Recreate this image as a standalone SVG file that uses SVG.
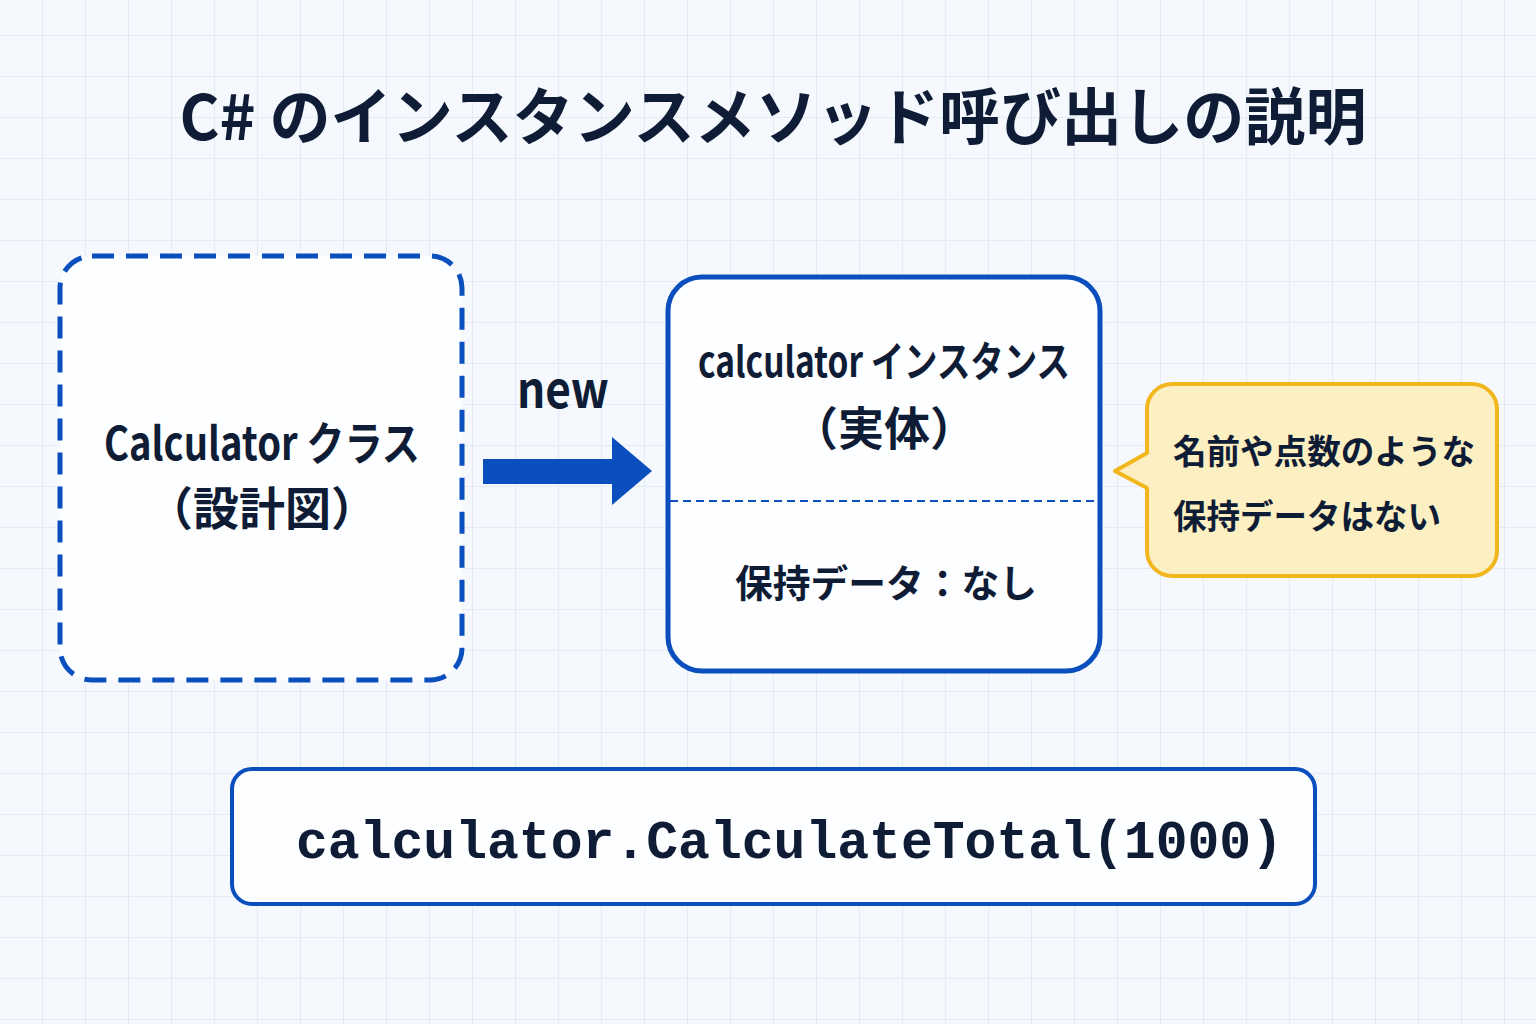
<svg xmlns="http://www.w3.org/2000/svg" width="1536" height="1024" viewBox="0 0 1536 1024">
<defs>
<pattern id="grid" x="42" y="35" width="43" height="41" patternUnits="userSpaceOnUse">
<path d="M0 0 H43 M0 0 V41" fill="none" stroke="#dbe7f5" stroke-width="1.5"/>
</pattern>
<style>
.t{font-family:"Noto Sans CJK JP","Noto Sans",sans-serif;fill:#0f1c36;font-weight:700}
.title{font-size:62px}
.mono{font-family:"Liberation Mono","DejaVu Sans Mono",monospace;font-weight:700;fill:#0f1c36}
.blue{stroke:#0b4fbe;fill:#fdfeff}
</style>
</defs>
<rect width="1536" height="1024" fill="#f5f8fd"/>
<rect width="1536" height="1024" fill="url(#grid)"/>
<g id="title">
<text class="t title" x="773" y="140" text-anchor="middle" textLength="1187" lengthAdjust="spacingAndGlyphs">C# のインスタンスメソッド呼び出しの説明</text>
</g>
<g id="class-node">
<rect x="60" y="256" width="402" height="424" rx="32" class="blue" stroke-width="5" stroke-dasharray="22 12"/>
<text class="t" x="262" y="460" font-size="46" text-anchor="middle" textLength="316" lengthAdjust="spacingAndGlyphs">Calculator クラス</text>
<text class="t" x="262" y="525" font-size="46" text-anchor="middle">（設計図）</text>
</g>
<g id="connectors">
<polygon points="483,459 612,459 612,437 652,471 612,505 612,484 483,484" fill="#0b4fbe"/>
<text class="t" x="563" y="408" font-size="50" text-anchor="middle" textLength="92" lengthAdjust="spacingAndGlyphs">new</text>
</g>
<g id="instance-node">
<rect x="668" y="277" width="432" height="394" rx="34" class="blue" stroke-width="5"/>
<line x1="670" y1="501" x2="1098" y2="501" stroke="#0b4fbe" stroke-width="2" stroke-dasharray="8 5"/>
<text class="t" x="884" y="377" font-size="42" text-anchor="middle" textLength="372" lengthAdjust="spacingAndGlyphs">calculator インスタンス</text>
<text class="t" x="884" y="445" font-size="46" text-anchor="middle">（実体）</text>
<text class="t" x="886" y="597" font-size="38" text-anchor="middle" textLength="302" lengthAdjust="spacingAndGlyphs">保持データ：なし</text>
</g>
<g id="note">
<path d="M1172 384 H1472 A25 25 0 0 1 1497 409 V551 A25 25 0 0 1 1472 576 H1172 A25 25 0 0 1 1147 551 V488 L1115 471 L1147 453 V409 A25 25 0 0 1 1172 384 Z" fill="#fcefc2" stroke="#f2b71e" stroke-width="4" stroke-linejoin="round"/>
<text class="t" x="1173" y="464" font-size="34" textLength="302" lengthAdjust="spacingAndGlyphs">名前や点数のような</text>
<text class="t" x="1173" y="529" font-size="34" textLength="268" lengthAdjust="spacingAndGlyphs">保持データはない</text>
</g>
<g id="code-node">
<rect x="232" y="769" width="1083" height="135" rx="20" class="blue" stroke-width="4"/>
<text class="mono" x="296" y="858" font-size="53" textLength="987" lengthAdjust="spacingAndGlyphs">calculator.CalculateTotal(1000)</text>
</g>
</svg>
